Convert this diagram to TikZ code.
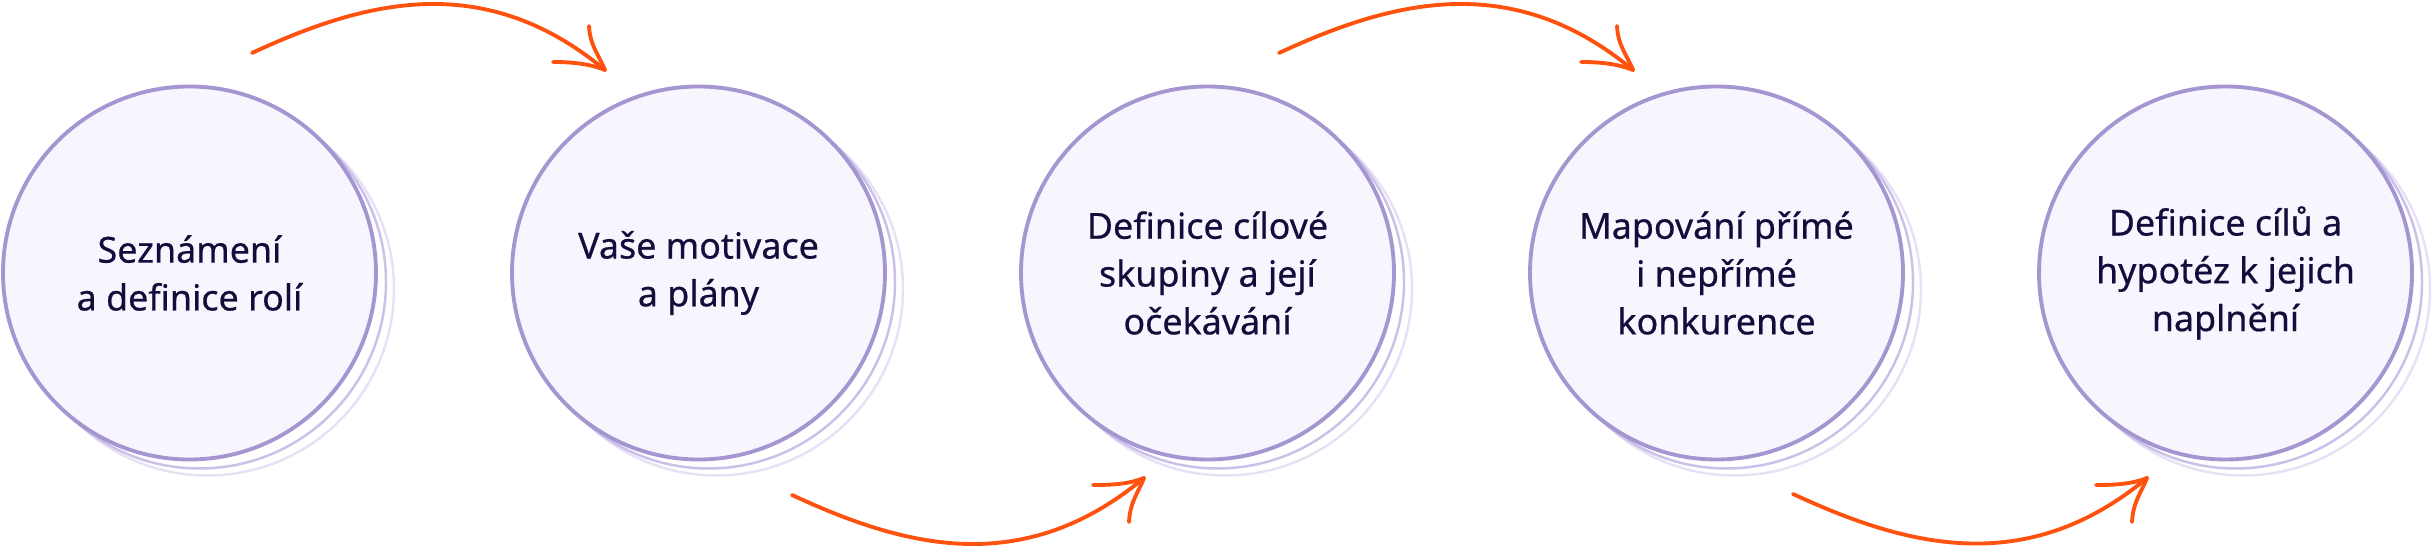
\documentclass[tikz,border=0pt]{standalone}
\usepackage{fontspec}
\setmainfont{Noto Sans}
\newfontfamily\stagefont{Noto Sans}[FakeBold=0.45]
\definecolor{ringpurple}{RGB}{165, 150, 210}
\definecolor{ringfill}{RGB}{247, 245, 254}
\definecolor{shadowone}{RGB}{202, 192, 232}
\definecolor{shadowtwo}{RGB}{230, 225, 245}
\definecolor{inkdark}{RGB}{20, 12, 58}
\definecolor{floworange}{RGB}{255, 82, 15}
\usetikzlibrary{positioning, calc}

\tikzset{
  stage/.style={circle, draw=ringpurple, fill=ringfill, line width=1.1pt, minimum size=3.73cm, inner sep=0pt,
    align=center, text=inkdark, font=\stagefont\fontsize{10.2}{13.6}\selectfont},
  ringshadow/.style={circle, draw=#1, line width=0.7pt, minimum size=3.73cm, inner sep=0pt},
  flow/.style={draw=floworange, line width=1.1pt, line cap=round, line join=round},
}

\begin{document}
\begin{tikzpicture}
  \useasboundingbox (0, 0) rectangle (24.33, 5.46);

  % Stages with stacked rings
  \foreach \i/\x/\txt in {1/1.895/{Seznámení\\a definice rolí},
                          2/6.985/{Vaše motivace\\a plány},
                          3/12.075/{Definice cílové\\skupiny a její\\očekávání},
                          4/17.165/{Mapování přímé\\i nepřímé\\konkurence},
                          5/22.255/{Definice cílů a\\hypotéz k jejich\\naplnění}} {
    \node[ringshadow=shadowtwo] (s\i b) at (\x+0.18, 2.73-0.16) {};
    \node[ringshadow=shadowone] (s\i a) at (\x+0.10, 2.73-0.09) {};
    \node[stage] (c\i) at (\x, 2.73) {\txt};
  }

  % Arrow ends
  \coordinate (t1s) at ([shift={(0.625, 2.20)}]c1.center);
  \coordinate (t1e) at ([shift={(-0.935, 2.03)}]c2.center);
  \coordinate (b1s) at ([shift={(0.935, -2.22)}]c2.center);
  \coordinate (b1e) at ([shift={(-0.635, -2.05)}]c3.center);
  \coordinate (t2s) at ([shift={(0.715, 2.20)}]c3.center);
  \coordinate (t2e) at ([shift={(-0.835, 2.03)}]c4.center);
  \coordinate (b2s) at ([shift={(0.765, -2.21)}]c4.center);
  \coordinate (b2e) at ([shift={(-0.785, -2.05)}]c5.center);

  % Upper arrows
  \draw[flow] (t1s) .. controls +(1.12, 0.52) and +(-1.215, 1.01) .. (t1e);
  \draw[flow] ([shift={(-0.16, 0.44)}]t1e) .. controls +(0.01, -0.2) and +(-0.06, 0.15) .. (t1e);
  \draw[flow] ([shift={(-0.52, 0.08)}]t1e) .. controls +(0.2, 0) and +(-0.15, 0.06) .. (t1e);

  \draw[flow] (t2s) .. controls +(1.12, 0.52) and +(-1.215, 1.01) .. (t2e);
  \draw[flow] ([shift={(-0.16, 0.44)}]t2e) .. controls +(0.01, -0.2) and +(-0.06, 0.15) .. (t2e);
  \draw[flow] ([shift={(-0.52, 0.08)}]t2e) .. controls +(0.2, 0) and +(-0.15, 0.06) .. (t2e);

  % Lower arrows
  \draw[flow] (b1s) .. controls +(1.12, -0.52) and +(-1.215, -1.01) .. (b1e);
  \draw[flow] ([shift={(-0.15, -0.44)}]b1e) .. controls +(0.01, 0.2) and +(-0.06, -0.15) .. (b1e);
  \draw[flow] ([shift={(-0.51, -0.07)}]b1e) .. controls +(0.2, 0) and +(-0.15, -0.06) .. (b1e);

  \draw[flow] (b2s) .. controls +(1.12, -0.52) and +(-1.215, -1.01) .. (b2e);
  \draw[flow] ([shift={(-0.15, -0.44)}]b2e) .. controls +(0.01, 0.2) and +(-0.06, -0.15) .. (b2e);
  \draw[flow] ([shift={(-0.51, -0.07)}]b2e) .. controls +(0.2, 0) and +(-0.15, -0.06) .. (b2e);
\end{tikzpicture}
\end{document}
